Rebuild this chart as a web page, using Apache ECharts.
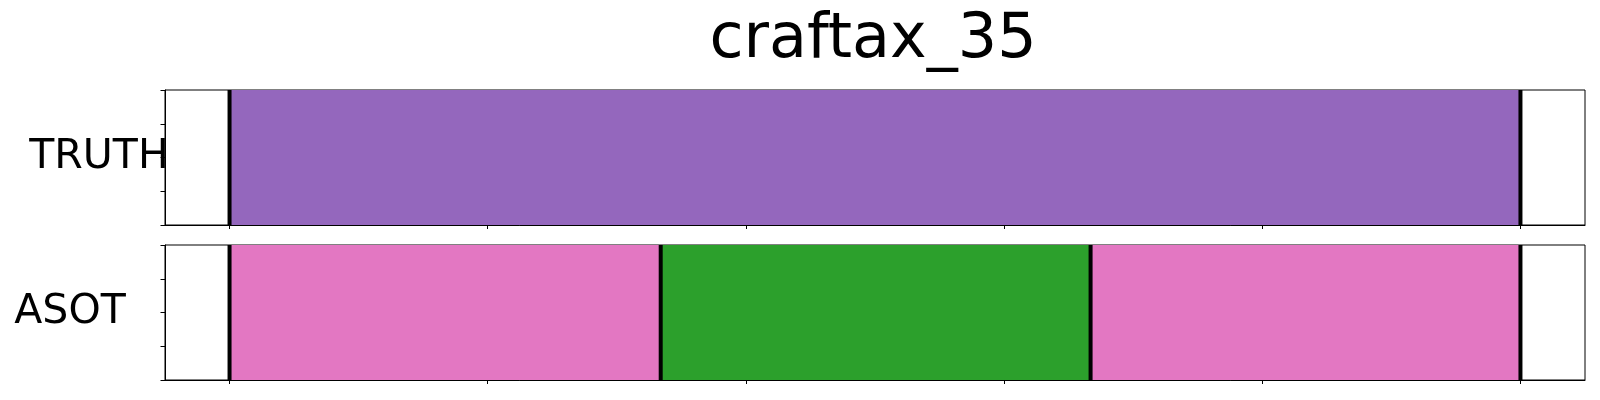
<!DOCTYPE html>
<html>
<head>
<meta charset="utf-8">
<script src="https://cdn.jsdelivr.net/npm/echarts@6/dist/echarts.min.js"></script>
<style>html,body{margin:0;padding:0;background:#fff}#c{width:1600px;height:400px}</style>
</head>
<body>
<div id="c"></div>
<script>
// ---- data ----
const title = 'craftax_35';
const rowNames = ['TRUTH', 'ASOT'];
const truthBounds = [0, 100];
const truthActions = [4];
const asotBounds = [0, 33.4, 66.7, 100];
const asotActions = [6, 2, 6];
const xTicks = [0, 20, 40, 60, 80, 100];
const yTicks = [0, 0.25, 0.5, 0.75, 1];

// ---- style ----
const palette = ['#1f77b4','#ff7f0e','#2ca02c','#d62728','#9467bd','#8c564b','#e377c2','#7f7f7f','#bcbd22','#17becf'];
const FONT = 'DejaVu Sans';

function segData(bounds, actions) {
  const out = [];
  for (let i = 0; i < actions.length; i++) out.push([bounds[i], bounds[i + 1], actions[i]]);
  return out;
}

const rows = [
  { name: rowNames[0], segs: segData(truthBounds, truthActions), bounds: truthBounds, top: 90, nameGap: 66 },
  { name: rowNames[1], segs: segData(asotBounds, asotActions), bounds: asotBounds, top: 245, nameGap: 95 }
];

const grids = [], xAxes = [], yAxes = [], series = [];
rows.forEach((r, i) => {
  grids.push({ left: 165, right: 15, top: r.top, height: 135, show: true, borderColor: '#000', borderWidth: 1, backgroundColor: 'transparent' });
  xAxes.push({
    type: 'value', gridIndex: i, min: -5, max: 105,
    axisLine: { show: true, onZero: false, lineStyle: { color: '#000', width: 1 } },
    axisTick: { show: true, inside: false, length: 4, customValues: xTicks, lineStyle: { color: '#000', width: 1 } },
    axisLabel: { show: false }, splitLine: { show: false }
  });
  yAxes.push({
    type: 'value', gridIndex: i, min: 0, max: 1, interval: 0.25,
    name: r.name, nameLocation: 'middle', nameRotate: 0, nameGap: r.nameGap,
    nameTextStyle: { fontFamily: FONT, fontSize: 41, color: '#000', align: 'center', verticalAlign: 'middle', padding: [0, 0, 8, 0] },
    axisLine: { show: true, onZero: false, lineStyle: { color: '#000', width: 1 } },
    axisTick: { show: true, inside: false, length: 4.5, customValues: yTicks, lineStyle: { color: '#000', width: 1 } },
    axisLabel: { show: false }, splitLine: { show: false }
  });
  series.push({
    type: 'custom', xAxisIndex: i, yAxisIndex: i, silent: true,
    data: r.segs,
    renderItem: function (params, api) {
      const p0 = api.coord([api.value(0), 1]);
      const p1 = api.coord([api.value(1), 0]);
      return { type: 'rect', shape: { x: p0[0], y: p0[1], width: p1[0] - p0[0], height: p1[1] - p0[1] },
        style: { fill: palette[api.value(2)] } };
    }
  });
  series.push({
    type: 'custom', xAxisIndex: i, yAxisIndex: i, silent: true, z: 5,
    data: r.bounds.map(b => [b]),
    renderItem: function (params, api) {
      const p0 = api.coord([api.value(0), 1]);
      const p1 = api.coord([api.value(0), 0]);
      return { type: 'line', shape: { x1: p0[0], y1: p0[1], x2: p1[0], y2: p1[1] },
        style: { stroke: '#000', lineWidth: 4 } };
    }
  });
});

const chart = echarts.init(document.getElementById('c'), null, { renderer: 'canvas' });
chart.setOption({
  animation: false,
  backgroundColor: '#fff',
  grid: grids, xAxis: xAxes, yAxis: yAxes, series: series,
  graphic: [{
    type: 'text', x: 873, y: 41,
    style: { text: title, font: '62px "' + FONT + '"', fill: '#000', align: 'center', verticalAlign: 'middle' }
  }]
});
</script>
</body>
</html>
